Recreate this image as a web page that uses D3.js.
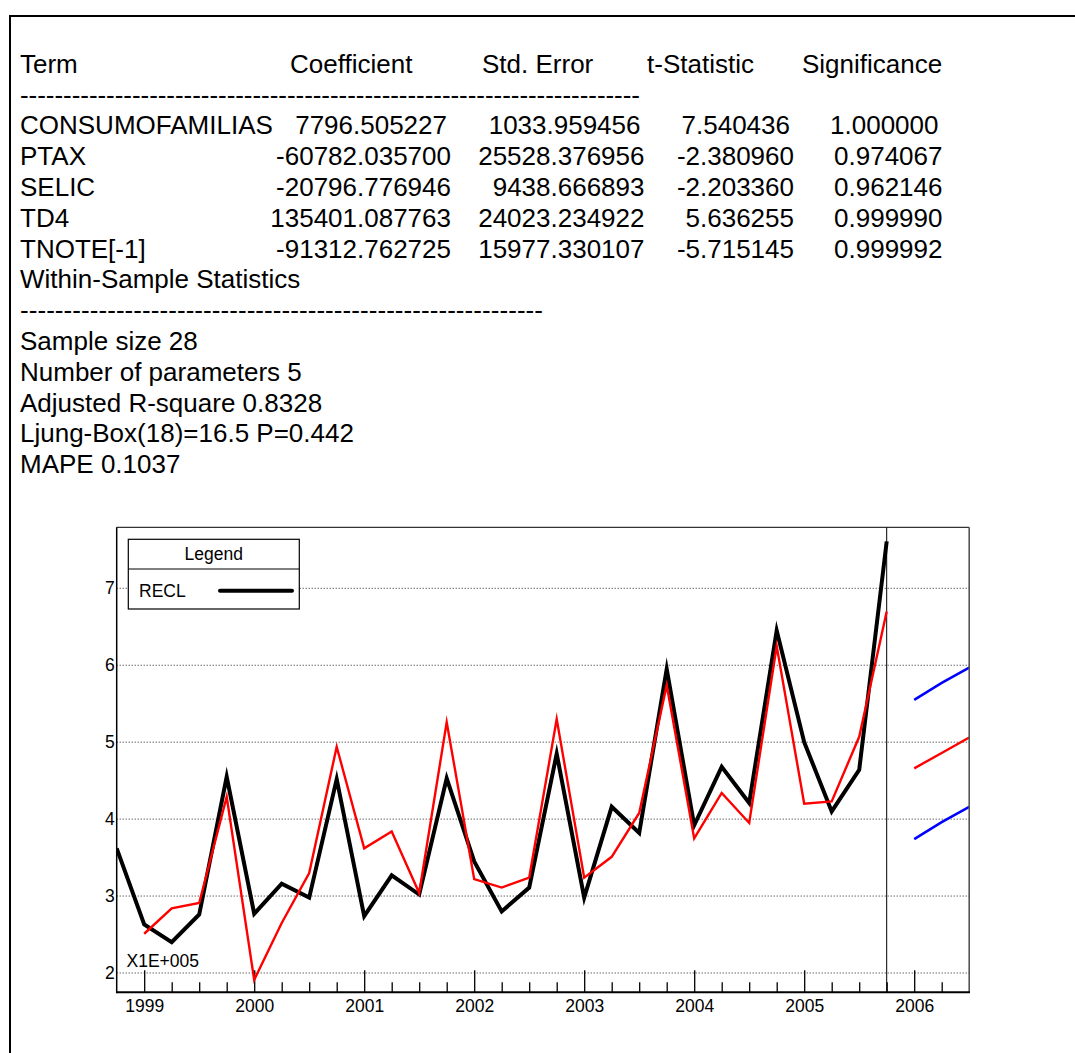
<!DOCTYPE html>
<html>
<head>
<meta charset="utf-8">
<script src="https://cdn.jsdelivr.net/npm/d3@7/dist/d3.min.js"></script>
<style>
  html, body { margin: 0; padding: 0; background: #fff; }
  svg text { font-family: "Liberation Sans", Arial, sans-serif; fill: #000; }
</style>
</head>
<body>
<svg id="chart" width="1075" height="1053"></svg>
<script>
// ---------------- DATA ----------------
const tableHeaders = ["Term", "Coefficient", "Std. Error", "t-Statistic", "Significance"];
const terms = ["CONSUMOFAMILIAS", "PTAX", "SELIC", "TD4", "TNOTE[-1]"];
const coefficients = ["7796.505227", "-60782.035700", "-20796.776946", "135401.087763", "-91312.762725"];
const stdErrors = ["1033.959456", "25528.376956", "9438.666893", "24023.234922", "15977.330107"];
const tStats = ["7.540436", "-2.380960", "-2.203360", "5.636255", "-5.715145"];
const significance = ["1.000000", "0.974067", "0.962146", "0.999990", "0.999992"];
const statsTitle = "Within-Sample Statistics";
const statsLines = [
  "Sample size 28",
  "Number of parameters 5",
  "Adjusted R-square 0.8328",
  "Ljung-Box(18)=16.5 P=0.442",
  "MAPE 0.1037"
];

// quarterly periods (x categories)
const periods = [
  "1998Q4",
  "1999Q1","1999Q2","1999Q3","1999Q4",
  "2000Q1","2000Q2","2000Q3","2000Q4",
  "2001Q1","2001Q2","2001Q3","2001Q4",
  "2002Q1","2002Q2","2002Q3","2002Q4",
  "2003Q1","2003Q2","2003Q3","2003Q4",
  "2004Q1","2004Q2","2004Q3","2004Q4",
  "2005Q1","2005Q2","2005Q3","2005Q4",
  "2006Q1","2006Q2","2006Q3"
];
const yearLabels = ["1999","2000","2001","2002","2003","2004","2005","2006"];
const yTicks = [2, 3, 4, 5, 6, 7];
const yScaleNote = "X1E+005";

// RECL actual, 1998Q4..2005Q4 (units of 1E+005)
const actualPeriods = periods.slice(0, 29);
const actualValues = [3.62, 2.63, 2.40, 2.76, 4.55, 2.77, 3.16, 2.98, 4.52, 2.74, 3.27, 3.02, 4.53, 3.45,
                      2.80, 3.11, 4.85, 2.98, 4.16, 3.82, 5.95, 3.92, 4.68, 4.21, 6.45, 5.00, 4.10, 4.64, 7.61];
// fitted, 1999Q1..2005Q4
const fittedPeriods = periods.slice(1, 29);
const fittedValues = [2.51, 2.84, 2.91, 4.29, 1.91, 2.65, 3.30, 4.94, 3.62, 3.84, 3.04, 5.26, 3.22, 3.11,
                      3.24, 5.30, 3.24, 3.51, 4.08, 5.74, 3.75, 4.34, 3.95, 6.25, 4.20, 4.23, 5.07, 6.70];
// forecast, 2006Q1..2006Q3
const forecastPeriods = periods.slice(29, 32);
const forecastValues = [4.66, 4.86, 5.06];
const upperValues = [5.55, 5.77, 5.97];
const lowerValues = [3.74, 3.96, 4.16];
const forecastOrigin = "2005Q4";
const legendLabel = "RECL";

// ---------------- DRAW ----------------
const svg = d3.select("#chart");
const FS = 26;

// outer frame
svg.append("path").attr("d", "M10,1053 L10,16 L1075,16")
  .attr("fill", "none").attr("stroke", "#000").attr("stroke-width", 2);

// table
const rowY = k => 72.7 + 30.8 * k;
const headerX = [20, 290, 482, 647, 802];
tableHeaders.forEach((h, i) => {
  svg.append("text").attr("x", headerX[i]).attr("y", rowY(0)).attr("font-size", FS).text(h);
});
function dashes(y, x0, x1, n) {
  svg.append("text").attr("x", x0).attr("y", y).attr("font-size", FS)
    .attr("textLength", x1 - x0).attr("lengthAdjust", "spacing")
    .text("-".repeat(n));
}
dashes(rowY(1), 20, 640, 72);

const colEnds = [451, 644.5, 794, 942.5];
const cols = [coefficients, stdErrors, tStats, significance];
terms.forEach((t, r) => {
  const y = rowY(2 + r);
  const shift = r === 0 ? -4 : 0;
  svg.append("text").attr("x", 20).attr("y", y).attr("font-size", FS).text(t);
  cols.forEach((c, ci) => {
    svg.append("text").attr("x", colEnds[ci] + shift).attr("y", y)
      .attr("font-size", FS).attr("text-anchor", "end").text(c[r]);
  });
});
svg.append("text").attr("x", 20).attr("y", rowY(7)).attr("font-size", FS).text(statsTitle);
dashes(rowY(8), 20, 543, 60);
statsLines.forEach((s, i) => {
  svg.append("text").attr("x", 20).attr("y", rowY(9 + i)).attr("font-size", FS).text(s);
});

// chart
const X0 = 116.7, X1 = 969.2, Y0 = 527.3, Y1 = 992.3;
const x = d3.scalePoint().domain(periods).range([X0, X1]).padding(0);
const y = d3.scaleLinear().domain([1.749, 7.793]).range([Y1, Y0]);

const g = svg.append("g");

// gridlines
g.selectAll("line.grid").data(yTicks).enter().append("line")
  .attr("x1", X0).attr("x2", X1)
  .attr("y1", d => y(d)).attr("y2", d => y(d))
  .attr("stroke", "#222").attr("stroke-width", 1).attr("stroke-dasharray", "1,2");

// y labels
const yAxis = d3.axisLeft(y).tickValues(yTicks).tickSize(0).tickPadding(2).tickFormat(d3.format("d"));
const ya = g.append("g").attr("transform", `translate(${X0},0)`).call(yAxis);
ya.select(".domain").remove();
ya.selectAll("text").attr("font-size", 17.5).attr("font-family", "Liberation Sans, Arial, sans-serif").attr("fill", "#000");

// x axis major ticks (Q1 of each year)
const majorPeriods = yearLabels.map(yl => yl + "Q1");
const xMajor = d3.axisBottom(x).tickValues(majorPeriods).tickSizeInner(-22).tickSizeOuter(0)
  .tickPadding(7.5).tickFormat(d => d.slice(0, 4));
const xa = g.append("g").attr("transform", `translate(0,${Y1})`).call(xMajor);
xa.select(".domain").remove();
xa.selectAll("line").attr("stroke", "#000").attr("stroke-width", 1.3);
xa.selectAll("text").attr("font-size", 17.5).attr("font-family", "Liberation Sans, Arial, sans-serif").attr("fill", "#000");

const minorPeriods = periods.filter((p, i) => i > 0 && i < periods.length - 1 && !p.endsWith("Q1"));
const xMinor = d3.axisBottom(x).tickValues(minorPeriods).tickSizeInner(-10).tickSizeOuter(0).tickFormat("");
const xm = g.append("g").attr("transform", `translate(0,${Y1})`).call(xMinor);
xm.select(".domain").remove();
xm.selectAll("line").attr("stroke", "#000").attr("stroke-width", 1.3);

// scale note
g.append("text").attr("x", 126.5).attr("y", 966.5).attr("font-size", 17.5).text(yScaleNote);

// forecast origin line
g.append("line").attr("x1", x(forecastOrigin)).attr("x2", x(forecastOrigin))
  .attr("y1", Y0).attr("y2", Y1).attr("stroke", "#000").attr("stroke-width", 1);

// series lines
const clip = svg.append("defs").append("clipPath").attr("id", "plotclip");
clip.append("rect").attr("x", X0).attr("y", Y0).attr("width", X1 - X0).attr("height", Y1 - Y0);
const lines = g.append("g").attr("clip-path", "url(#plotclip)");
const lineGen = d3.line().x(d => x(d[0])).y(d => y(d[1]));
function series(ps, vs, color, w) {
  lines.append("path").datum(ps.map((p, i) => [p, vs[i]]))
    .attr("d", lineGen).attr("fill", "none").attr("stroke", color)
    .attr("stroke-width", w).attr("stroke-linejoin", "miter").attr("stroke-miterlimit", 10);
}
series(actualPeriods, actualValues, "#000", 4);
series(fittedPeriods, fittedValues, "#ff0000", 2.4);
series(forecastPeriods, forecastValues, "#ff0000", 2.4);
series(forecastPeriods, upperValues, "#0000ff", 2.5);
series(forecastPeriods, lowerValues, "#0000ff", 2.5);

// plot frame
g.append("line").attr("x1", X0).attr("x2", X1).attr("y1", Y0).attr("y2", Y0).attr("stroke", "#000").attr("stroke-width", 1);
g.append("line").attr("x1", X1).attr("x2", X1).attr("y1", Y0).attr("y2", Y1).attr("stroke", "#555").attr("stroke-width", 1.6);
g.append("line").attr("x1", X0).attr("x2", X0).attr("y1", Y0).attr("y2", Y1 + 1).attr("stroke", "#000").attr("stroke-width", 1.5);
g.append("line").attr("x1", X0).attr("x2", X1 + 0.8).attr("y1", Y1).attr("y2", Y1).attr("stroke", "#000").attr("stroke-width", 2);

// legend
const lg = g.append("g");
lg.append("rect").attr("x", 128.3).attr("y", 539.3).attr("width", 171).attr("height", 69.7)
  .attr("fill", "#fff").attr("stroke", "#000").attr("stroke-width", 1.2);
lg.append("line").attr("x1", 128.3).attr("x2", 299.3).attr("y1", 569).attr("y2", 569)
  .attr("stroke", "#000").attr("stroke-width", 1.2);
lg.append("text").attr("x", 213.8).attr("y", 559.5).attr("font-size", 17.5).attr("text-anchor", "middle").text("Legend");
lg.append("text").attr("x", 139).attr("y", 597).attr("font-size", 17.5).text(legendLabel);
lg.append("line").attr("x1", 220).attr("x2", 292).attr("y1", 590.7).attr("y2", 590.7)
  .attr("stroke", "#000").attr("stroke-width", 4).attr("stroke-linecap", "round");
</script>
</body>
</html>
